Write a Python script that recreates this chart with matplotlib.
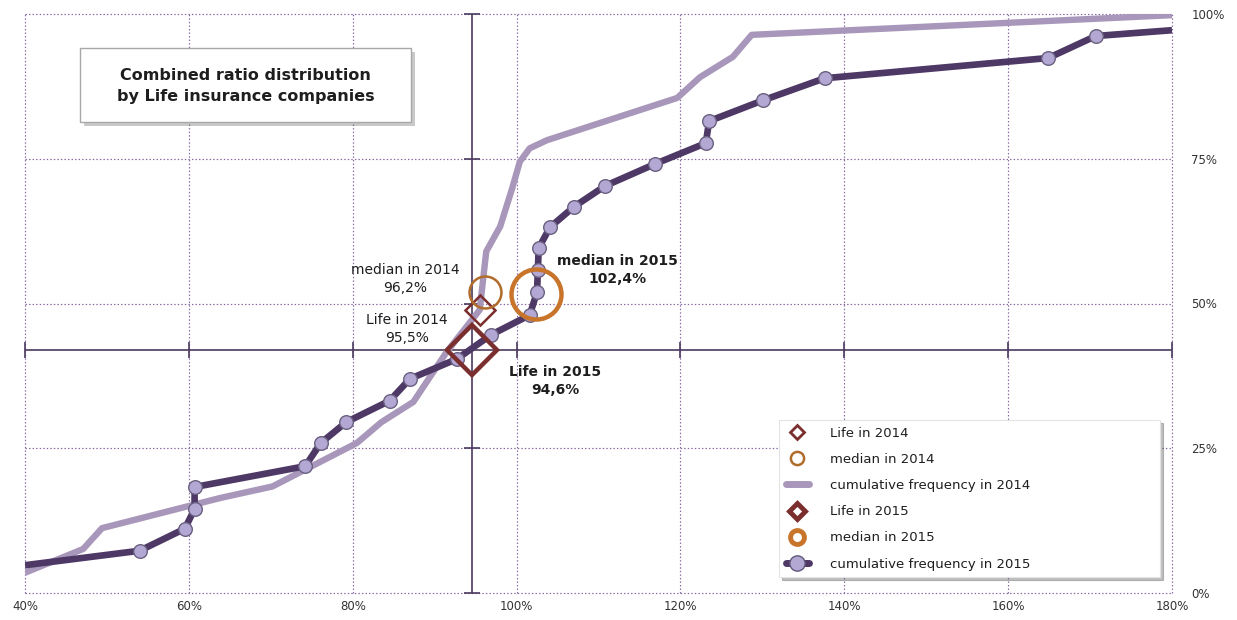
import matplotlib
matplotlib.use("Agg")
import matplotlib.pyplot as plt
import matplotlib.patheffects as pe
from matplotlib.lines import Line2D
from matplotlib.patches import Rectangle

# cumulative frequency of combined ratio (x: ratio %, y: share of companies %)
ratio_2014 = [40, 47.1, 49.4, 63.8, 70.2, 80.5, 83.5, 87.4, 91.4, 95.5, 96.3,
              98.0, 99.4, 100.4, 101.6, 103.7, 119.6, 122.4, 126.4, 128.7, 180]
share_2014 = [3.5, 7.6, 11.2, 16.4, 18.4, 25.9, 29.5, 33.0, 41.5, 48.9, 59.0,
              63.3, 69.6, 74.5, 76.8, 78.2, 85.5, 89.1, 92.6, 96.4, 99.8]

ratio_2015 = [40, 54.0, 59.5, 60.7, 60.7, 74.2, 76.1, 79.2, 84.5, 87.0, 92.7,
              96.9, 101.6, 102.5, 102.6, 102.7, 104.1, 107.0, 110.8, 116.9,
              123.1, 123.5, 130.1, 137.6, 164.9, 170.7, 180]
share_2015 = [4.8, 7.3, 11.1, 14.5, 18.3, 21.9, 25.9, 29.5, 33.2, 37.0, 40.4,
              44.6, 48.0, 52.0, 55.8, 59.6, 63.2, 66.7, 70.3, 74.1,
              77.7, 81.5, 85.1, 88.9, 92.4, 96.2, 97.2]

# Life segment and median, [2014, 2015]
life_x = [95.5, 94.6]
life_y = [48.9, 42.0]
median_x = [96.2, 102.4]
median_y = [51.9, 51.6]

x_ticks = [40, 60, 80, 100, 120, 140, 160, 180]
y_ticks = [0, 25, 50, 75, 100]

W, H = 1237, 620
fig = plt.figure(figsize=(W / 100, H / 100), dpi=100)
ax = fig.add_axes([25 / W, 27 / H, 1147 / W, 579 / H])
ax.set_xlim(40, 180)
ax.set_ylim(0, 100)

purple = '#4e3866'
lavender = '#a897ba'
red = '#7b2e2e'
orange14 = '#b06c2a'
orange15 = '#c8742a'
txt = '#1e1e1e'

ax.set_xticks(x_ticks)
ax.set_xticklabels([f"{v}%" for v in x_ticks])
ax.set_yticks(y_ticks)
ax.set_yticklabels([f"{v}%" for v in y_ticks])
ax.yaxis.tick_right()
ax.tick_params(length=0, labelsize=8.5, labelcolor='#333333')
ax.tick_params(axis='x', pad=5)
ax.tick_params(axis='y', pad=14)
for s in ax.spines.values():
    s.set_visible(False)
ax.grid(True, color='#8466a2', linestyle=(0, (1.2, 1.8)), linewidth=0.85)
for gl in ax.get_xgridlines() + ax.get_ygridlines():
    gl.set_clip_on(False)

# crosshair through Life 2015
ax.axvline(life_x[1], color='#4a3a5e', lw=1.2, zorder=2)
ax.axhline(life_y[1], color='#4a3a5e', lw=1.2, zorder=2)
ax.plot(x_ticks, [life_y[1]] * len(x_ticks), ls='none', marker='|', ms=12,
        mew=1.2, color='#4a3a5e', clip_on=False, zorder=2)
ax.plot([life_x[1]] * len(y_ticks), y_ticks, ls='none', marker='_', ms=12,
        mew=1.2, color='#4a3a5e', clip_on=False, zorder=2)

ax.plot(ratio_2014, share_2014, color=lavender, lw=4.6, zorder=3,
        solid_capstyle='butt')
ax.plot(ratio_2015, share_2015, color=purple, lw=4.8, zorder=4,
        marker='o', ms=9.8, mfc='#b3a7d3', mec='#6a6080', mew=1,
        markevery=list(range(1, len(ratio_2015) - 1)), solid_capstyle='butt')

ax.plot(life_x[0], life_y[0], marker='D', ms=15.3, mfc='none', mec=red, mew=1.8, zorder=5)
ax.plot(median_x[0], median_y[0], marker='o', ms=23, mfc='none', mec=orange14, mew=1.8, zorder=5)
ax.plot(life_x[1], life_y[1], marker='D', ms=25.5, mfc='none', mec=red, mew=3.2, zorder=5)
ax.plot(median_x[1], median_y[1], marker='o', ms=36, mfc='none', mec=orange15, mew=3.2, zorder=5)

ax.text(86.4, 54.3, f"median in 2014\n{median_x[0]:.1f}%".replace('.', ','),
        ha='center', va='center', fontsize=10, color=txt, linespacing=1.35)
ax.text(86.6, 45.6, f"Life in 2014\n{life_x[0]:.1f}%".replace('.', ','),
        ha='center', va='center', fontsize=10, color=txt, linespacing=1.35)
ax.text(112.3, 55.8, f"median in 2015\n{median_x[1]:.1f}%".replace('.', ','),
        ha='center', va='center', fontsize=10, color=txt, linespacing=1.35,
        fontweight='bold')
ax.text(104.7, 36.6, f"Life in 2015\n{life_x[1]:.1f}%".replace('.', ','),
        ha='center', va='center', fontsize=10, color=txt, linespacing=1.35,
        fontweight='bold')

# title box
box = Rectangle((80 / W, (H - 122) / H), 331 / W, 74 / H, transform=fig.transFigure,
                fc='white', ec='#a8a8a8', lw=1, zorder=10)
box.set_path_effects([pe.withSimplePatchShadow(offset=(3, -3), shadow_rgbFace='0.4', alpha=0.35)])
fig.add_artist(box)
fig.text(245.5 / W, (H - 86) / H, "Combined ratio distribution\nby Life insurance companies",
         ha='center', va='center', fontsize=11.5, fontweight='bold', color=txt,
         linespacing=1.5, zorder=11)

handles = [
    Line2D([], [], ls='none', marker='D', ms=7.5, mfc='white', mec=red, mew=2),
    Line2D([], [], ls='none', marker='o', ms=9.5, mfc='white', mec=orange14, mew=1.8),
    Line2D([], [], color=lavender, lw=5, solid_capstyle='round'),
    Line2D([], [], ls='none', marker='D', ms=8.5, mfc='white', mec=red, mew=3.5),
    Line2D([], [], ls='none', marker='o', ms=10, mfc='white', mec=orange15, mew=3.5),
    Line2D([], [], color=purple, lw=5, solid_capstyle='round', marker='o', ms=11,
           mfc='#b3a7d3', mec='#62577a', mew=1),
]
labels = ["Life in 2014", "median in 2014", "cumulative frequency in 2014",
          "Life in 2015", "median in 2015", "cumulative frequency in 2015"]
leg = fig.legend(handles, labels, loc='upper left', mode='expand',
                 bbox_to_anchor=(779 / W, (H - 580) / H, 381 / W, 160 / H),
                 bbox_transform=fig.transFigure, fontsize=9.5, frameon=True,
                 fancybox=False, shadow={'alpha': 0.35}, borderpad=0.5,
                 handlelength=1.75, handletextpad=1.65, labelspacing=1.0,
                 numpoints=1, borderaxespad=0, labelcolor=txt)
leg.get_frame().set_edgecolor('#e4e4e4')
leg.get_frame().set_linewidth(0.8)

fig.savefig("out.png", dpi=100, facecolor='white')
